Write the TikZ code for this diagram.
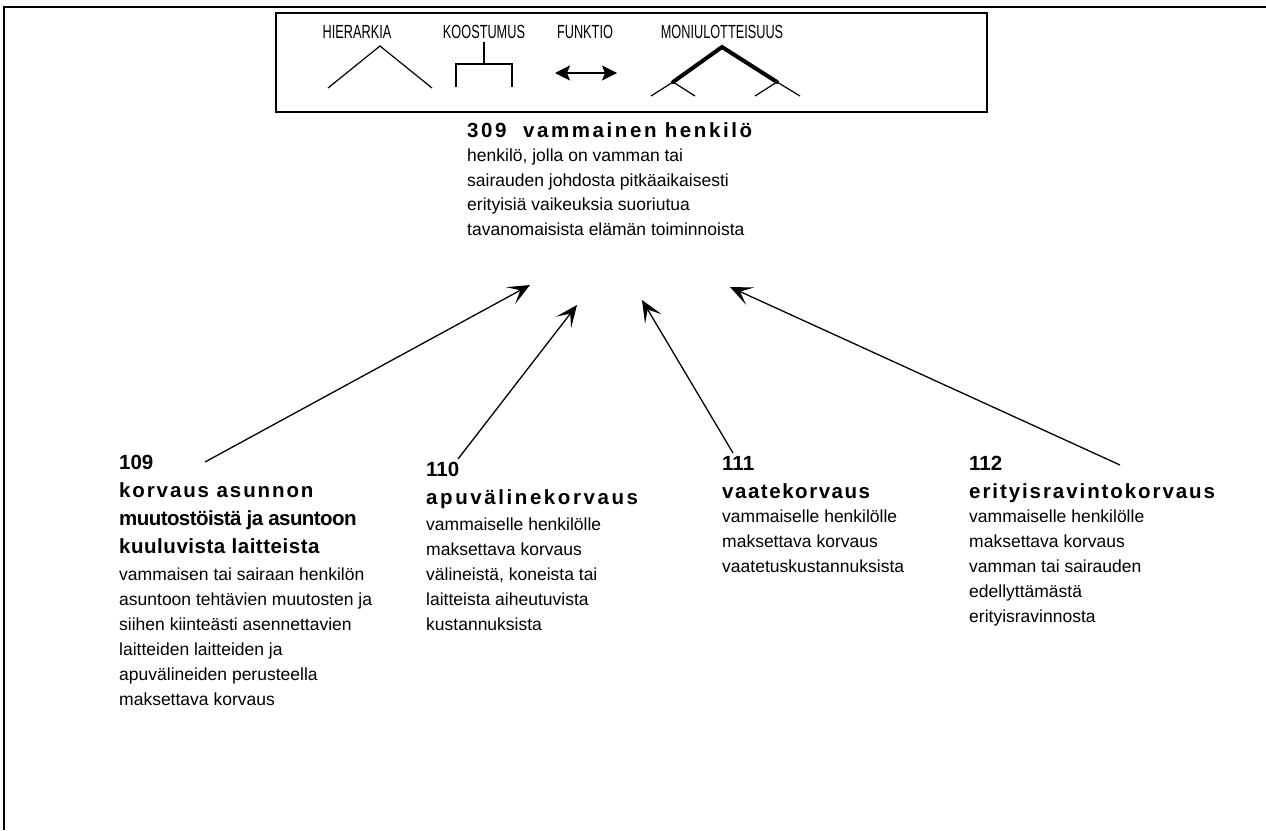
\documentclass[tikz,border=0pt]{standalone}
\usepackage{fontspec}
\usepackage{graphicx}
\setmainfont{Liberation Sans}
\newfontfamily\headfont{Liberation Sans Bold}
\usetikzlibrary{arrows.meta}
% bold heading line; the optional argument sets its letter spacing
\newcommand\termhead[2][0]{{\fontsize{20.5}{25}\headfont\addfontfeature{LetterSpace=#1}#2}}
% narrowed capital labels of the legend
\newcommand\legendlabel[1]{\scalebox{0.67}[1]{#1}}
\begin{document}
\begin{tikzpicture}[x=1pt,y=-1pt,
  blk/.style={anchor=north west, inner sep=0pt, align=left,
              font=\fontsize{17.5}{25}\selectfont},
  link/.style={line width=1.3pt, -{Stealth[length=22pt,width=19pt,inset=11pt]}},
  legtxt/.style={inner sep=0pt, font=\fontsize{19}{20}\selectfont},
  thin/.style={line width=1.2pt},
  thick/.style={line width=4pt, line cap=round}
]
\useasboundingbox (0,0) rectangle (1266,830);

% page frame (left and top edges)
\draw[line width=2pt] (4,830) -- (4,7) -- (1266,7);

% legend box
\draw[line width=1.5pt] (276,13) rectangle (987,112);
\node[legtxt] (lh) at (357,32) {\legendlabel{HIERARKIA}};
\node[legtxt] (lk) at (484,32) {\legendlabel{KOOSTUMUS}};
\node[legtxt] (lf) at (585,32) {\legendlabel{FUNKTIO}};
\node[legtxt] (lm) at (722,32) {\legendlabel{MONIULOTTEISUUS}};

% hierarchy symbol
\draw[thin] (328,88) -- (380,46) -- (432,88);
% composition symbol
\draw[thin] (484,42) -- (484,64);
\draw[thin] (456,87) -- (456,64) -- (512,64) -- (512,87);
% function symbol
\draw[thin, {Stealth[length=15pt,width=15pt,inset=3pt]}-{Stealth[length=15pt,width=15pt,inset=3pt]}] (555,73) -- (617,73);
% multidimensionality symbol
\draw[thick] (673,82) -- (722,47) -- (777,82);
\draw[thin] (651,96) -- (673,82) -- (695,96);
\draw[thin] (755,96) -- (777,82) -- (800,96);

% concepts
\node[blk] (n309) at (467,122) {\termhead[12.6]{309\ \ vammainen henkilö}\\[-0.5pt]
henkilö, jolla on vamman tai\\[-0.5pt]
sairauden johdosta pitkäaikaisesti\\[-0.5pt]
erityisiä vaikeuksia suoriutua\\[-0.5pt]
tavanomaisista elämän toiminnoista};

\node[blk] (n109) at (119,455) {\termhead{109}\\[3pt]
\termhead[9.2]{korvaus asunnon}\\[3pt]
\termhead[-2.8]{muutostöistä ja asuntoon}\\[3pt]
\termhead[2.6]{kuuluvista laitteista}\\[2pt]
vammaisen tai sairaan henkilön\\
asuntoon tehtävien muutosten ja\\
siihen kiinteästi asennettavien\\
laitteiden laitteiden ja\\
apuvälineiden perusteella\\
maksettava korvaus};

\node[blk] (n110) at (426,462) {\termhead{110}\\[3pt]
\termhead[12.6]{apuvälinekorvaus}\\[1pt]
vammaiselle henkilölle\\
maksettava korvaus\\
välineistä, koneista tai\\
laitteista aiheutuvista\\
kustannuksista};

\node[blk] (n111) at (722,456) {\termhead{111}\\[3pt]
\termhead[7.5]{vaatekorvaus}\\[-1pt]
vammaiselle henkilölle\\
maksettava korvaus\\
vaatetuskustannuksista};

\node[blk] (n112) at (969,456) {\termhead{112}\\[3pt]
\termhead[9.4]{erityisravintokorvaus}\\[-1pt]
vammaiselle henkilölle\\
maksettava korvaus\\
vamman tai sairauden\\
edellyttämästä\\
erityisravinnosta};

% connector ends
\coordinate (t109) at (205,462);
\coordinate (h109) at (530,285);
\coordinate (t110) at (458,459);
\coordinate (h110) at (577,305);
\coordinate (t111) at (733,453);
\coordinate (h111) at (642,300);
\coordinate (t112) at (1120,465);
\coordinate (h112) at (730,287);

\draw[link] (t109) -- (h109);
\draw[link] (t110) -- (h110);
\draw[link] (t111) -- (h111);
\draw[link] (t112) -- (h112);
\end{tikzpicture}
\end{document}
